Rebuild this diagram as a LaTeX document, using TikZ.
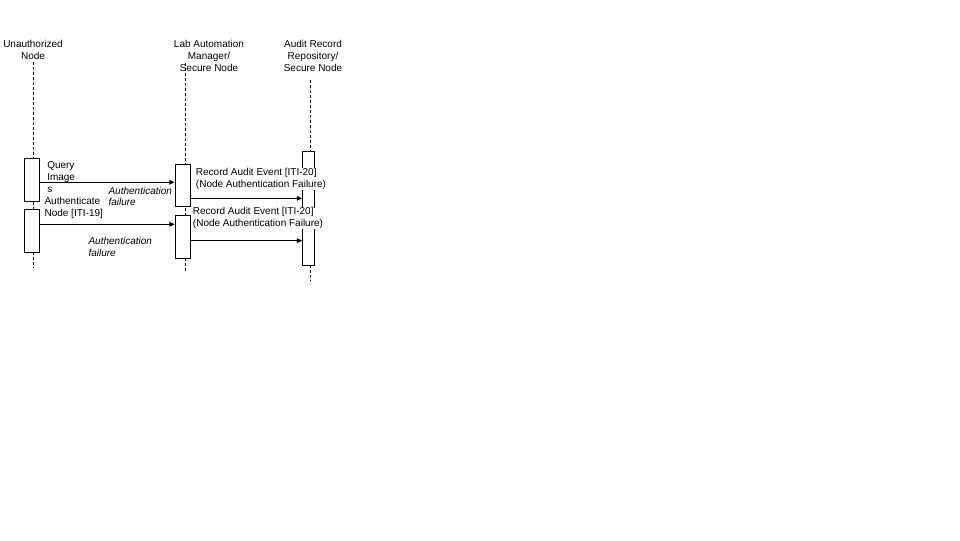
\documentclass[tikz,border=0pt]{standalone}
\usepackage{fontspec}
\setmainfont{Liberation Sans}
\usetikzlibrary{positioning, arrows.meta}

\begin{document}
\begin{tikzpicture}[x=0.75pt, y=-0.75pt,
    every node/.style={font=\fontsize{7.5}{8.8}\selectfont, inner sep=0pt},
    lifeline/.style={line width=0.75pt, dash pattern=on 2.25pt off 1.5pt},
    actbox/.style={draw, fill=white, line width=0.75pt},
    msg/.style={line width=0.75pt, -{Triangle[length=4pt, width=3.5pt]}},
    lbl/.style={align=left, anchor=west},
    note/.style={lbl, font=\fontsize{7.5}{8.8}\selectfont\itshape}]
    \useasboundingbox (0,0) rectangle (960,540);
    % Participants
    \node (hdU) [align=center] at (33,50) {Unauthorized\\Node};
    \node (hdL) [align=center] at (209,56) {Lab Automation\\Manager/\\Secure Node};
    \node (hdA) [align=center] at (313,56) {Audit Record\\Repository/\\Secure Node};
    % Lifelines
    \draw [lifeline] (33.3,62) -- (33.3,268);
    \draw [lifeline] (185,63) -- (185,272);
    \draw [lifeline] (310,80) -- (310,281);
    % Activations
    \node (act1a) [actbox, minimum width=11.25pt, minimum height=32.25pt] at (31.8,179.8) {};
    \node (act1b) [actbox, minimum width=11.25pt, minimum height=32.25pt] at (31.8,230.7) {};
    \node (act2a) [actbox, minimum width=11.6pt, minimum height=31.8pt] at (182.9,185.5) {};
    \node (act2b) [actbox, minimum width=11.6pt, minimum height=32.25pt] at (182.9,236.8) {};
    \node (act3) [actbox, minimum width=9.2pt, minimum height=85.2pt] at (308.8,208.5) {};
    % Message labels
    \node (lbQ) [lbl] at (47,177) {Query\\Image\\s};
    \node (lbF1) [note] at (108.3,196.4) {Authentication\\failure};
    \node (lbA) [lbl] at (44.3,207.7) {Authenticate\\Node [ITI-19]};
    \node (lbF2) [note] at (88.3,247) {Authentication\\failure};
    \node (lbR1) [lbl, fill=white] at (195.7,179) {Record Audit Event [ITI-20]\\(Node Authentication Failure)};
    \node (lbR2) [lbl, fill=white] at (192.7,218.2) {Record Audit Event [ITI-20]\\(Node Authentication Failure)};
    % Messages
    \draw [msg] (act1a.east |- 0,182.3) -- (act2a.west |- 0,182.3);
    \draw [msg] (act2a.east |- 0,198.3) -- (act3.west |- 0,198.3);
    \draw [msg] (act1b.east |- 0,224.3) -- (act2b.west |- 0,224.3);
    \draw [msg] (act2b.east |- 0,240.7) -- (act3.west |- 0,240.7);
\end{tikzpicture}
\end{document}
